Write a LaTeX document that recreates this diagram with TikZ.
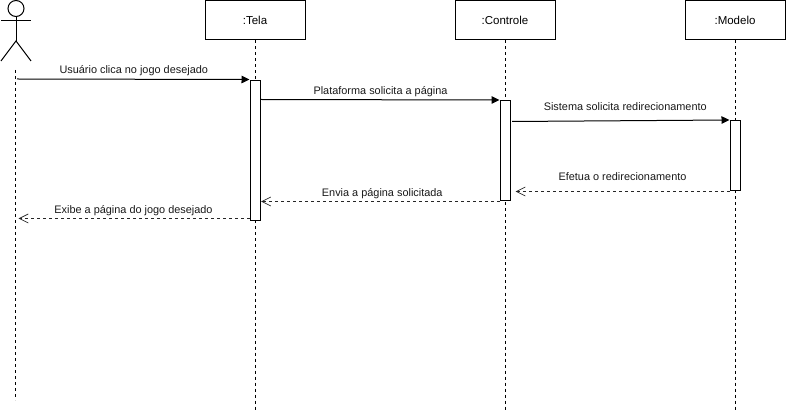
\documentclass[tikz,border=0pt]{standalone}
\usepackage{fontspec}
\setmainfont{Liberation Sans}
\usetikzlibrary{arrows.meta, positioning, calc}
\tikzset{
  head/.style ={rectangle, draw=black, line width=1pt, minimum height=39.5pt,
                minimum width=100pt, align=center, inner sep=0pt, fill=white},
  ativ/.style ={rectangle, draw=black, line width=1pt, minimum width=10pt,
                inner sep=0pt, fill=white},
  vida/.style ={dash pattern=on 3pt off 3pt, line width=1pt, black},
  msg/.style  ={-{Triangle[length=8pt,width=7.5pt]}, line width=1pt, black},
  ret/.style  ={-{Straight Barb[length=9pt,width=9pt,line width=0.7pt]},
                dash pattern=on 3pt off 3pt, line width=1pt, black!85},
  lbl/.style  ={font=\fontsize{10.9pt}{13pt}\selectfont, inner sep=0pt, text=black!90}
}
\begin{document}
\begin{tikzpicture}[x=1pt, y=-1pt, line width=1pt]
\useasboundingbox (0,0) rectangle (786,411);

% Lifeline heads (top)
\node[head] (tela)     at (255,20.25) {\fontsize{11.5pt}{13pt}\selectfont :Tela};
\node[head] (controle) at (505,20.25) {\fontsize{11.5pt}{13pt}\selectfont :Controle};
\node[head] (modelo)   at (735,20.25) {\fontsize{11.5pt}{13pt}\selectfont :Modelo};

% Actor
\node[circle, draw=black, line width=1pt, minimum size=16pt, inner sep=0pt] (cabeca) at (16,8.5) {};
\coordinate (ombroE) at (1,20.5);
\coordinate (ombroD) at (31,20.5);
\coordinate (quadril) at (16,41);
\coordinate (peE) at (1,61);
\coordinate (peD) at (31,61);
\draw (cabeca.south) -- (quadril);
\draw (ombroE) -- (ombroD);
\draw (peE) -- (quadril) -- (peD);

% Vertical lifelines
\coordinate (atorTopo) at (15.5,70);
\coordinate (atorFim)  at (15.5,400);
\draw[vida] (atorTopo) -- (atorFim);
\foreach \n in {tela, controle, modelo}{
  \draw[vida] (\n.south) -- ($(\n.south)+(0,370)$);
}

% Activation bars
\node[ativ, minimum height=140pt] (ativTela)     at (255,150.5) {};
\node[ativ, minimum height=100pt] (ativControle) at (505,150.5) {};
\node[ativ, minimum height=70pt]  (ativModelo)   at (735,155.5) {};

% Messages
\draw[msg] ($(atorTopo)+(1.5,9)$) -- ($(ativTela.north west)+(0,-0.5)$)
     node[midway, lbl, above=3pt, xshift=0.5pt]{Usuário clica no jogo desejado};

\draw[msg] ($(ativTela.north east)+(0,19.5)$) -- (ativControle.north west)
     node[midway, lbl, above=2.25pt, xshift=0.5pt]{Plataforma solicita a página};

\draw[msg] ($(ativControle.north east)+(1.5,21.5)$) -- (ativModelo.north west)
     node[midway, lbl, above=9.5pt, xshift=4.5pt]{Sistema solicita redirecionamento};

\draw[ret] ($(ativModelo.south west)+(0,0.5)$) -- ($(ativControle.east |- ativModelo.south)+(5,0.5)$)
     node[midway, lbl, above=10pt]{Efetua o redirecionamento};

\draw[ret] ($(ativControle.south west)+(0,0.5)$) -- ($(ativTela.east |- ativControle.south)+(0.5,0.5)$)
     node[midway, lbl, above=2.5pt, xshift=2pt]{Envia a página solicitada};

\draw[ret] ($(ativTela.south west)+(0,-2.5)$) -- ($(atorTopo |- ativTela.south)+(3,-2.5)$)
     node[midway, lbl, above=2.5pt, xshift=-0.5pt]{Exibe a página do jogo desejado};
\end{tikzpicture}
\end{document}
